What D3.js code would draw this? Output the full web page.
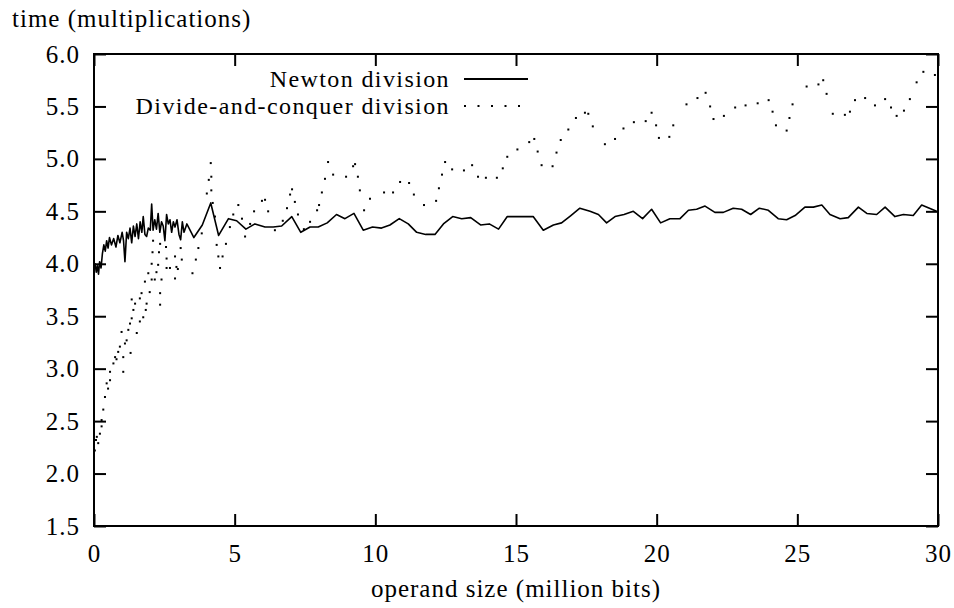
<!DOCTYPE html>
<html lang="en">
<head>
  <meta charset="UTF-8">
  <title>Newton vs divide-and-conquer division</title>
  <script src="https://d3js.org/d3.v7.min.js"></script>
  <style type="text/css">
    body { margin: 0; background: #fff; }
    text { font-family: "Liberation Serif", "Times New Roman", serif; fill: #000; }
    .tick text { font-size: 25px; letter-spacing: 1px; font-family: "Liberation Serif", serif; }
    .tick line { stroke: #000; stroke-width: 2; }
    .newton { fill: none; stroke: #000; stroke-width: 1.6; stroke-linejoin: round; }
    .dot { fill: #000; }
  </style>
</head>
<body>
<script>
  // tick values
  var xTicks = [0, 5, 10, 15, 20, 25, 30];
  var yTicks = [1.5, 2.0, 2.5, 3.0, 3.5, 4.0, 4.5, 5.0, 5.5, 6.0];

  // Newton division (solid line): operand size (million bits), time (multiplications)
  var newtonX = [0.00, 0.04, 0.08, 0.12, 0.16, 0.20, 0.25, 0.30, 0.35, 0.40, 0.45, 0.50, 0.55, 0.62, 0.70,
    0.78, 0.85, 0.92, 1.00, 1.05, 1.10, 1.16, 1.22, 1.28, 1.34, 1.40, 1.46, 1.52, 1.58, 1.64,
    1.70, 1.75, 1.81, 1.87, 1.93, 2.00, 2.05, 2.10, 2.16, 2.22, 2.28, 2.34, 2.40, 2.46, 2.52,
    2.58, 2.64, 2.70, 2.76, 2.82, 2.88, 2.95, 3.02, 3.08, 3.14, 3.20, 3.30, 3.55, 3.85, 4.15,
    4.43, 4.78, 5.07, 5.40, 5.72, 6.08, 6.37, 6.67, 7.03, 7.35, 7.68, 7.97, 8.29, 8.62, 8.92,
    9.24, 9.57, 9.90, 10.22, 10.52, 10.85, 11.17, 11.47, 11.79, 12.12, 12.42, 12.75, 13.07, 13.39, 13.74,
    14.05, 14.38, 14.69, 15.02, 15.31, 15.61, 15.97, 16.33, 16.62, 16.95, 17.27, 17.63, 17.93, 18.22, 18.52,
    18.84, 19.17, 19.50, 19.82, 20.14, 20.47, 20.83, 21.13, 21.42, 21.72, 22.07, 22.37, 22.72, 23.02, 23.34,
    23.65, 23.97, 24.32, 24.62, 24.92, 25.27, 25.57, 25.87, 26.16, 26.52, 26.81, 27.17, 27.47, 27.82, 28.12,
    28.47, 28.77, 29.12, 29.42, 29.78, 29.95];
  var newtonY = [3.95, 4.00, 3.92, 3.98, 3.90, 4.02, 3.96, 4.10, 4.18, 4.12, 4.22, 4.15, 4.25, 4.18, 4.24,
    4.16, 4.27, 4.20, 4.30, 4.22, 4.02, 4.30, 4.24, 4.34, 4.20, 4.36, 4.26, 4.38, 4.24, 4.40,
    4.30, 4.45, 4.28, 4.26, 4.34, 4.32, 4.57, 4.32, 4.42, 4.33, 4.48, 4.30, 4.40, 4.36, 4.22,
    4.47, 4.38, 4.42, 4.30, 4.40, 4.35, 4.42, 4.28, 4.23, 4.40, 4.30, 4.38, 4.25, 4.37, 4.58,
    4.27, 4.43, 4.41, 4.33, 4.38, 4.35, 4.35, 4.36, 4.45, 4.30, 4.35, 4.35, 4.39, 4.47, 4.43,
    4.48, 4.32, 4.35, 4.34, 4.37, 4.43, 4.38, 4.30, 4.28, 4.28, 4.38, 4.45, 4.43, 4.44, 4.37,
    4.38, 4.33, 4.45, 4.45, 4.45, 4.45, 4.32, 4.37, 4.39, 4.46, 4.53, 4.50, 4.47, 4.39, 4.45,
    4.47, 4.50, 4.43, 4.52, 4.39, 4.43, 4.43, 4.51, 4.52, 4.55, 4.49, 4.49, 4.53, 4.52, 4.47,
    4.53, 4.51, 4.43, 4.42, 4.46, 4.54, 4.54, 4.56, 4.47, 4.43, 4.44, 4.54, 4.48, 4.47, 4.54,
    4.45, 4.47, 4.46, 4.56, 4.52, 4.50];

  // Divide-and-conquer division (dots)
  var dcX = [0.00, 0.03, 0.07, 0.10, 0.15, 0.21, 0.27, 0.27, 0.33, 0.39, 0.45, 0.50, 0.57, 0.57, 0.69,
    0.75, 0.80, 0.86, 0.92, 0.98, 1.04, 1.04, 1.10, 1.16, 1.22, 1.28, 1.30, 1.34, 1.40, 1.34,
    1.46, 1.52, 1.63, 1.63, 1.69, 1.75, 1.81, 1.84, 1.87, 1.93, 1.98, 2.05, 2.08, 2.10, 2.05,
    2.16, 2.22, 2.28, 2.31, 2.35, 2.35, 2.35, 2.40, 2.56, 2.58, 2.58, 2.70, 2.88, 2.88, 2.93,
    2.98, 3.08, 3.12, 3.50, 3.62, 3.71, 3.83, 4.01, 4.08, 4.15, 4.17, 4.17, 4.22, 4.30, 4.36,
    4.42, 4.48, 4.57, 4.69, 4.83, 4.95, 5.13, 5.26, 5.37, 5.55, 5.69, 5.97, 6.08, 6.19, 6.43,
    6.71, 6.86, 6.97, 7.04, 7.14, 7.25, 7.46, 7.68, 7.93, 8.00, 8.10, 8.21, 8.32, 8.50, 8.96,
    9.21, 9.28, 9.38, 9.45, 9.60, 9.81, 10.31, 10.63, 10.88, 11.20, 11.37, 11.73, 12.16, 12.26, 12.37,
    12.48, 12.73, 13.15, 13.44, 13.65, 13.93, 14.32, 14.53, 14.69, 15.05, 15.47, 15.65, 15.77, 15.91, 16.30,
    16.44, 16.59, 16.86, 17.13, 17.45, 17.57, 17.73, 18.16, 18.52, 18.82, 19.19, 19.61, 19.82, 19.98, 20.08,
    20.45, 20.59, 21.06, 21.45, 21.74, 21.90, 22.02, 22.39, 22.79, 23.16, 23.59, 23.98, 24.12, 24.24, 24.62,
    24.72, 24.83, 25.33, 25.75, 25.92, 26.04, 26.26, 26.69, 26.87, 27.05, 27.41, 27.76, 28.12, 28.33, 28.53,
    28.79, 29.00, 29.24, 29.48, 29.89];
  var dcY = [2.16, 2.22, 2.32, 2.35, 2.29, 2.38, 2.45, 2.51, 2.61, 2.73, 2.86, 2.81, 2.89, 2.97, 3.05,
    3.11, 3.09, 3.16, 3.21, 3.35, 2.97, 3.11, 3.24, 3.27, 3.37, 3.43, 3.15, 3.48, 3.56, 3.66,
    3.62, 3.34, 3.67, 3.45, 3.72, 3.49, 3.83, 3.56, 3.62, 3.91, 3.73, 4.00, 4.11, 4.22, 3.85,
    3.85, 3.92, 3.99, 4.11, 4.19, 3.72, 3.61, 3.85, 4.16, 4.05, 3.96, 3.96, 4.07, 3.86, 3.97,
    3.95, 4.15, 4.04, 3.91, 4.04, 4.15, 4.29, 4.67, 4.80, 4.96, 4.83, 4.70, 4.58, 4.45, 4.18,
    4.07, 3.96, 4.07, 4.19, 4.35, 4.47, 4.56, 4.43, 4.26, 4.38, 4.50, 4.60, 4.61, 4.50, 4.32,
    4.41, 4.53, 4.66, 4.71, 4.59, 4.47, 4.33, 4.40, 4.51, 4.56, 4.68, 4.81, 4.97, 4.85, 4.83,
    4.93, 4.95, 4.83, 4.70, 4.51, 4.62, 4.68, 4.68, 4.78, 4.77, 4.66, 4.56, 4.60, 4.72, 4.85,
    4.97, 4.90, 4.89, 4.94, 4.83, 4.82, 4.82, 4.91, 5.02, 5.09, 5.16, 5.19, 5.07, 4.94, 4.93,
    5.06, 5.18, 5.28, 5.39, 5.44, 5.43, 5.31, 5.14, 5.19, 5.29, 5.35, 5.36, 5.44, 5.32, 5.20,
    5.21, 5.32, 5.52, 5.58, 5.63, 5.50, 5.38, 5.41, 5.49, 5.51, 5.53, 5.56, 5.45, 5.32, 5.27,
    5.39, 5.52, 5.69, 5.71, 5.75, 5.62, 5.43, 5.42, 5.45, 5.56, 5.58, 5.51, 5.57, 5.49, 5.41,
    5.46, 5.57, 5.73, 5.83, 5.80];

  var W = 954, H = 608;
  var margin = {top: 54, right: 16, bottom: 82, left: 94};
  var width = W - margin.left - margin.right,   // 844
      height = H - margin.top - margin.bottom;  // 472

  var xScale = d3.scaleLinear().domain([0, 30]).range([0, width]);
  var yScale = d3.scaleLinear().domain([1.5, 6.0]).range([height, 0]);

  var svg = d3.select("body").append("svg")
    .attr("width", W)
    .attr("height", H);

  var g = svg.append("g")
    .attr("transform", "translate(" + margin.left + "," + margin.top + ")");

  // axes with inward ticks, mirrored on top/right
  var xAxis = g.append("g")
    .attr("transform", "translate(0," + height + ")")
    .call(d3.axisBottom(xScale).tickValues(xTicks).tickSize(-12).tickPadding(18).tickFormat(d3.format("d")));
  g.append("g")
    .call(d3.axisTop(xScale).tickValues(xTicks).tickSize(-12).tickFormat(""));
  g.append("g")
    .call(d3.axisLeft(yScale).tickValues(yTicks).tickSize(-12).tickPadding(14).tickFormat(d3.format(".1f")));
  g.append("g")
    .attr("transform", "translate(" + width + ",0)")
    .call(d3.axisRight(yScale).tickValues(yTicks).tickSize(-12).tickFormat(""));
  g.selectAll(".domain").remove();
  g.selectAll(".tick text").attr("font-family", null);
  xAxis.selectAll("text").attr("dy", "0.71em");

  // Newton series
  var newton = newtonX.map(function(x, i) { return {x: x, y: newtonY[i]}; });
  var line = d3.line()
    .x(function(d) { return xScale(d.x); })
    .y(function(d) { return yScale(d.y); });
  g.append("path")
    .datum(newton)
    .attr("class", "newton")
    .attr("d", line);

  // divide-and-conquer dots
  var dc = dcX.map(function(x, i) { return {x: x, y: dcY[i]}; });
  g.selectAll(".dot")
    .data(dc)
    .enter().append("rect")
    .attr("class", "dot")
    .attr("x", function(d) { return xScale(d.x) - 1; })
    .attr("y", function(d) { return yScale(d.y) - 1; })
    .attr("width", 2)
    .attr("height", 2);

  // frame
  g.append("rect")
    .attr("width", width)
    .attr("height", height)
    .attr("fill", "none")
    .attr("stroke", "#000")
    .attr("stroke-width", 2);

  // legend (rows a little apart so the labels don't collide)
  var legend = svg.append("g").attr("transform", "translate(450,0)");
  legend.append("text")
    .attr("x", 0).attr("y", 87)
    .attr("text-anchor", "end")
    .style("font-size", "24px").style("letter-spacing", "1.4px")
    .text("Newton division");
  legend.append("line")
    .attr("x1", 14).attr("x2", 78)
    .attr("y1", 79).attr("y2", 79)
    .attr("stroke", "#000").attr("stroke-width", 2);
  legend.append("text")
    .attr("x", 0).attr("y", 114)
    .attr("text-anchor", "end")
    .style("font-size", "24px").style("letter-spacing", "1.4px")
    .text("Divide-and-conquer division");
  legend.append("line")
    .attr("x1", 14).attr("x2", 80)
    .attr("y1", 106).attr("y2", 106)
    .attr("stroke", "#000").attr("stroke-width", 2)
    .attr("stroke-dasharray", "2,11.5");

  // axis titles
  svg.append("text")
    .attr("x", 12).attr("y", 27)
    .style("font-size", "25px").style("letter-spacing", "1px")
    .text("time (multiplications)");
  svg.append("text")
    .attr("x", margin.left + width / 2).attr("y", 597)
    .attr("text-anchor", "middle")
    .style("font-size", "25px").style("letter-spacing", "1px")
    .text("operand size (million bits)");
</script>
</body>
</html>
